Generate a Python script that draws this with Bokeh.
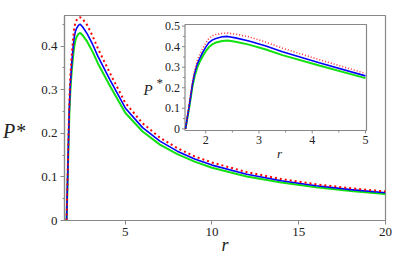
from bokeh.plotting import figure
from bokeh.models import Range1d, FixedTicker, Label
from bokeh.embed import file_html
from bokeh.resources import INLINE
from bokeh.core.properties import value

# ---------------- data ----------------
r_vals = [1.62, 1.65, 1.69, 1.72, 1.75, 1.79, 1.84, 1.89, 1.94, 2.00, 2.06, 2.12,
          2.19, 2.31, 2.41, 2.56, 2.81, 3.13, 3.44, 4.13, 5.0,
          6, 7, 8, 9, 10, 12, 14, 16, 18, 20]
p_red = [0.0, 0.055, 0.122, 0.176, 0.230, 0.285, 0.333, 0.363, 0.390, 0.418, 0.440, 0.453,
         0.459, 0.465, 0.466, 0.461, 0.448, 0.422, 0.393, 0.337, 0.270,
         0.223, 0.190, 0.166, 0.147, 0.133, 0.111, 0.095, 0.083, 0.074, 0.0665]
p_blue = [0.0, 0.050, 0.113, 0.165, 0.218, 0.270, 0.315, 0.345, 0.371, 0.398, 0.420, 0.432,
          0.440, 0.448, 0.450, 0.443, 0.428, 0.403, 0.375, 0.322, 0.258,
          0.213, 0.182, 0.159, 0.141, 0.127, 0.106, 0.091, 0.0795, 0.0707, 0.0637]
p_green = [0.0, 0.045, 0.105, 0.155, 0.205, 0.255, 0.298, 0.328, 0.352, 0.378, 0.398, 0.411,
           0.420, 0.428, 0.430, 0.424, 0.410, 0.386, 0.359, 0.308, 0.247,
           0.204, 0.174, 0.152, 0.135, 0.121, 0.101, 0.087, 0.076, 0.0675, 0.0608]

x_ticks = [5, 10, 15, 20]
x_tick_labels = ["5", "10", "15", "20"]
y_ticks = [0, 0.1, 0.2, 0.3, 0.4]
y_tick_labels = ["0", "0.1", "0.2", "0.3", "0.4"]
y_minor = [0.05, 0.15, 0.25, 0.35, 0.45]

inset_x_ticks = [2, 3, 4, 5]
inset_x_tick_labels = ["2", "3", "4", "5"]
inset_x_minor = [2.5, 3.5, 4.5]
inset_y_ticks = [0, 0.1, 0.2, 0.3, 0.4, 0.5]
inset_y_tick_labels = ["0", "0.1", "0.2", "0.3", "0.4", "0.5"]
inset_y_minor = [0.05, 0.15, 0.25, 0.35, 0.45]

# ---------------- layout ----------------
X0, X1 = 1.5, 20.0
Y0, Y1 = 0.0, 0.47
IX0, IX1 = 1.61, 5.02
IY0, IY1 = -0.008, 0.508
ML, MR, MT, MB = 62, 30, 15, 38
FW, FH = 321, 205
# inset box inside the frame (px from frame left / frame bottom)
BL, BR, BB, BT = 120.5, 302.0, 90.0, 196.0

kx = (IX1 - IX0) / (BR - BL)
ky = (IY1 - IY0) / (BT - BB)
ix_range = Range1d(IX0 - BL * kx, IX0 + (FW - BL) * kx)
iy_range = Range1d(IY0 - BB * ky, IY0 + (FH - BB) * ky)

GRAY = "#888888"
TXT = "#222222"
SERIF = "Liberation Serif"
RED, BLUE, GREEN = "#ff0000", "#0000ff", "#11e011"

p = figure(frame_width=FW, frame_height=FH, output_backend="svg", toolbar_location=None,
           x_range=Range1d(X0, X1), y_range=Range1d(Y0, Y1),
           min_border_left=ML, min_border_right=MR, min_border_top=MT, min_border_bottom=MB)
p.extra_x_ranges = {"ix": ix_range}
p.extra_y_ranges = {"iy": iy_range}
p.grid.visible = False
p.outline_line_color = GRAY
p.outline_line_width = 1.2
p.background_fill_color = "white"
p.border_fill_color = "white"

for ax in (p.xaxis[0], p.yaxis[0]):
    ax.axis_line_color = GRAY
    ax.axis_line_width = 1.2
    ax.major_tick_line_color = GRAY
    ax.minor_tick_line_color = GRAY
    ax.major_tick_out = 4
    ax.major_tick_in = 0
    ax.minor_tick_out = 2
    ax.minor_tick_in = 0
    ax.major_label_standoff = 3
    ax.major_label_text_font = SERIF
    ax.major_label_text_font_size = "13px"
    ax.major_label_text_color = TXT
    ax.axis_label_text_font = SERIF
    ax.axis_label_text_font_style = "italic"
    ax.axis_label_text_color = TXT

p.xaxis.ticker = FixedTicker(ticks=x_ticks, minor_ticks=[])
p.xaxis.major_label_overrides = dict(zip(x_ticks, x_tick_labels))
p.yaxis.ticker = FixedTicker(ticks=y_ticks, minor_ticks=y_minor)
p.yaxis.major_label_overrides = dict(zip(y_ticks, y_tick_labels))

p.xaxis.axis_label = "r"
p.xaxis.axis_label_text_font_size = "18px"
p.xaxis.axis_label_standoff = -4
p.yaxis.axis_label = "\nP*"
p.yaxis.axis_label_orientation = "horizontal"
p.yaxis.axis_label_text_font_size = "20px"
p.yaxis.axis_label_standoff = 13

# main curves
p.line(r_vals, p_green, line_color=GREEN, line_width=2)
p.line(r_vals, p_blue, line_color=BLUE, line_width=1.6)
p.line(r_vals, p_red, line_color=RED, line_width=2, line_dash="2 3")

# inset
p.quad(left=[IX0], right=[IX1], bottom=[IY0], top=[IY1], x_range_name="ix", y_range_name="iy",
       fill_color="white", line_color=GRAY, line_width=1.2)
sel = [i for i, r in enumerate(r_vals) if r <= IX1]
ir = [r_vals[i] for i in sel]
p.line(ir, [p_green[i] for i in sel], line_color=GREEN, line_width=2, x_range_name="ix", y_range_name="iy")
p.line(ir, [p_blue[i] for i in sel], line_color=BLUE, line_width=1.6, x_range_name="ix", y_range_name="iy")
p.line(ir, [p_red[i] for i in sel], line_color=RED, line_width=1.6, line_dash="1 2",
       line_alpha=0.8, x_range_name="ix", y_range_name="iy")

# inset ticks
p.segment(x0=inset_x_ticks, y0=[IY0] * len(inset_x_ticks), x1=inset_x_ticks,
          y1=[IY0 - 3 * ky] * len(inset_x_ticks), line_color=GRAY, x_range_name="ix", y_range_name="iy")
p.segment(x0=inset_x_minor, y0=[IY0] * len(inset_x_minor), x1=inset_x_minor,
          y1=[IY0 - 2 * ky] * len(inset_x_minor), line_color=GRAY, x_range_name="ix", y_range_name="iy")
p.segment(x0=[IX0] * len(inset_y_ticks), y0=inset_y_ticks, x1=[IX0 - 3 * kx] * len(inset_y_ticks),
          y1=inset_y_ticks, line_color=GRAY, x_range_name="ix", y_range_name="iy")
p.segment(x0=[IX0] * len(inset_y_minor), y0=inset_y_minor, x1=[IX0 - 2 * kx] * len(inset_y_minor),
          y1=inset_y_minor, line_color=GRAY, x_range_name="ix", y_range_name="iy")
p.text(x=[IX0] * len(inset_y_ticks), y=inset_y_ticks, text=inset_y_tick_labels, x_offset=-5,
       text_align="right", text_baseline="middle", text_font=value(SERIF), text_font_size="12px",
       text_color=TXT, x_range_name="ix", y_range_name="iy")
p.text(x=inset_x_ticks, y=[IY0] * len(inset_x_ticks), text=inset_x_tick_labels, y_offset=5,
       text_align="center", text_baseline="top", text_font=value(SERIF), text_font_size="12px",
       text_color=TXT, x_range_name="ix", y_range_name="iy")

# inset axis titles (positions given in page pixels, converted to main data units)
def dx(px):
    return X0 + (px - ML) * (X1 - X0) / FW

def dy(py):
    return Y0 + ((MT + FH) - py) * (Y1 - Y0) / FH

def lab(text, px, py, size, align="left", style="italic"):
    p.add_layout(Label(x=dx(px), y=dy(py), text=text, text_font=SERIF, text_font_size=size,
                       text_font_style=style, text_align=align, text_baseline="alphabetic",
                       text_color=TXT))

lab("P", 141, 89, "15px")
lab("*", 154, 81.5, "13px", style="normal")
lab("r", 277, 153, "13px", align="center")

open("out.html", "w").write(file_html(p, INLINE))
